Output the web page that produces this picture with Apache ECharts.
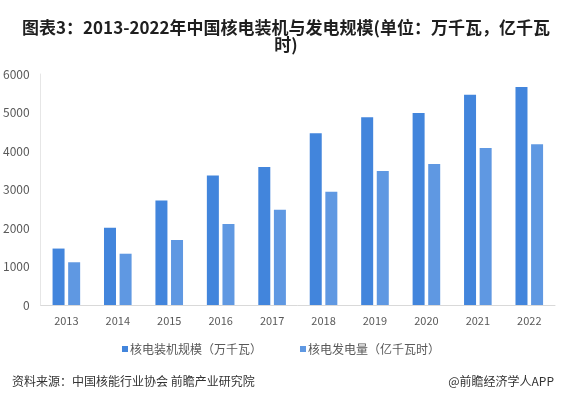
<!DOCTYPE html>
<html>
<head>
<meta charset="utf-8">
<script src="https://cdn.jsdelivr.net/npm/echarts@6/dist/echarts.min.js"></script>
<style>
html, body { margin: 0; padding: 0; background: #fff; }
#chart { width: 562px; height: 399px; }
</style>
</head>
<body>
<div id="chart"></div>
<script>
// 年份
var years = ['2013', '2014', '2015', '2016', '2017', '2018', '2019', '2020', '2021', '2022'];
// 核电装机规模（万千瓦）
var capacity = [1466, 2008, 2717, 3364, 3582, 4464, 4874, 4989, 5460, 5660];
// 核电发电量（亿千瓦时）
var generation = [1110, 1332, 1690, 2105, 2474, 2944, 3481, 3662, 4075, 4178];
var yTicks = [0, 1000, 2000, 3000, 4000, 5000, 6000];

var myChart = echarts.init(document.getElementById('chart'));
var font = '"Microsoft YaHei", "Noto Sans CJK SC", sans-serif';
var option = {
    backgroundColor: '#fff',
    animation: false,
    title: [{
        text: '图表3：2013-2022年中国核电装机与发电规模(单位：万千瓦，亿千瓦\n时)',
        left: 281,
        top: 14,
        textAlign: 'center',
        textStyle: {
            fontFamily: font,
            fontSize: 17,
            fontWeight: 'bold',
            color: '#1f1f1f',
            lineHeight: 17,
            align: 'center'
        }
    }, {
        text: '资料来源：中国核能行业协会 前瞻产业研究院',
        left: 7,
        top: 370,
        textStyle: { fontFamily: font, fontSize: 12, fontWeight: 'normal', color: '#333' }
    }, {
        text: '@前瞻经济学人APP',
        right: 3,
        top: 370,
        textStyle: { fontFamily: font, fontSize: 12, fontWeight: 'normal', color: '#333' }
    }],
    legend: {
        top: 338,
        left: 'center',
        itemWidth: 6,
        itemHeight: 6,
        itemGap: 38,
        icon: 'rect',
        textStyle: { fontFamily: font, fontSize: 12, color: '#595959', padding: [0, 0, 0, -3] },
        data: ['核电装机规模（万千瓦）', '核电发电量（亿千瓦时）']
    },
    grid: { left: 38, right: 7, top: 74, bottom: 94 },
    xAxis: {
        type: 'category',
        data: years,
        axisLine: { lineStyle: { color: '#d9d9d9' } },
        axisTick: { show: false },
        axisLabel: { color: '#595959', fontSize: 11, margin: 10, fontFamily: font }
    },
    yAxis: {
        type: 'value',
        min: yTicks[0],
        max: yTicks[yTicks.length - 1],
        interval: 1000,
        axisLine: { show: true, lineStyle: { color: '#e6e6e6' } },
        axisTick: { show: false },
        splitLine: { show: false },
        axisLabel: {
            color: '#595959', fontSize: 12, margin: 11, fontFamily: font,
            formatter: function (v) { return String(v); }
        }
    },
    series: [{
        name: '核电装机规模（万千瓦）',
        type: 'bar',
        data: capacity,
        barWidth: 12,
        barGap: '30%',
        itemStyle: { color: '#4285dc' }
    }, {
        name: '核电发电量（亿千瓦时）',
        type: 'bar',
        data: generation,
        barWidth: 12,
        itemStyle: { color: '#5f98e2' }
    }]
};
myChart.setOption(option);
</script>
</body>
</html>
